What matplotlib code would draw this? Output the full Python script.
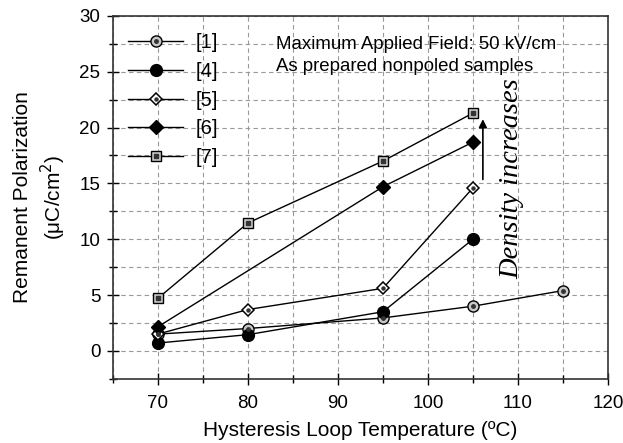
import matplotlib
matplotlib.use("Agg")
import matplotlib.pyplot as plt
from matplotlib.legend_handler import HandlerTuple
from matplotlib.ticker import MultipleLocator

# data
t1 = [70, 80, 95, 105, 115]
p1 = [1.5, 2.0, 2.95, 4.0, 5.4]
t4 = [70, 80, 95, 105]
p4 = [0.7, 1.45, 3.5, 10.0]
t5 = [70, 80, 95, 105]
p5 = [1.5, 3.7, 5.6, 14.6]
t6 = [70, 95, 105]
p6 = [2.15, 14.7, 18.7]
t7 = [70, 80, 95, 105]
p7 = [4.7, 11.45, 17.0, 21.3]
labels = ["[1]", "[4]", "[5]", "[6]", "[7]"]

plt.rcParams.update({"font.family": "Liberation Sans", "font.size": 13.5})

fig = plt.figure(figsize=(6.23, 4.43), dpi=100)
ax = fig.add_axes([0.181, 0.145, 0.795, 0.819])

GRAY = "#c8c8c8"
lw = 1.0
handles = []
# [1] open gray circle with dot
l, = ax.plot(t1, p1, "-o", color="k", lw=lw, ms=8, mfc=GRAY, mec="k", mew=1.0, zorder=3)
d, = ax.plot(t1, p1, "o", color="#333333", ms=2.5, lw=0, zorder=4)
handles.append((l, d))
# [4] filled circle
l, = ax.plot(t4, p4, "-o", color="k", lw=lw, ms=8.5, mfc="k", mec="k", zorder=3)
handles.append(l)
# [5] open diamond with dot
l, = ax.plot(t5, p5, "-D", color="k", lw=lw, ms=6.5, mfc="white", mec="k", mew=1.1, zorder=3)
d, = ax.plot(t5, p5, "o", color="#333333", ms=2.2, lw=0, zorder=4)
handles.append((l, d))
# [6] filled diamond
l, = ax.plot(t6, p6, "-D", color="k", lw=lw, ms=7, mfc="k", mec="k", zorder=3)
handles.append(l)
# [7] gray square with inner square
l, = ax.plot(t7, p7, "-s", color="k", lw=lw, ms=7, mfc=GRAY, mec="k", mew=1.0, zorder=3)
d, = ax.plot(t7, p7, "s", color="#333333", ms=2.5, lw=0, zorder=4)
handles.append((l, d))

ax.set_xlim(65, 120)
ax.set_ylim(-2.5, 30)
ax.xaxis.set_major_locator(MultipleLocator(10))
ax.xaxis.set_minor_locator(MultipleLocator(5))
ax.set_yticks([0, 5, 10, 15, 20, 25, 30])
ax.yaxis.set_minor_locator(MultipleLocator(2.5))
ax.tick_params(which="both", direction="inout", width=1.0, colors="k", labelsize=13.5)
ax.tick_params(which="major", length=8, pad=5)
ax.tick_params(which="minor", length=6)
ax.tick_params(axis="x", which="major", pad=8)
ax.grid(True, which="both", ls=(0, (4, 3)), color="#999999", lw=0.8)
ax.set_axisbelow(True)
for sp in ax.spines.values():
    sp.set_linewidth(1.2)
    sp.set_color("#333333")

ax.set_xlabel("Hysteresis Loop Temperature (ºC)", fontsize=15, labelpad=6)
ax.set_ylabel("Remanent Polarization\n(μC/cm$^2$)", fontsize=15, labelpad=8,
              linespacing=1.3)

leg = ax.legend(handles, labels, handler_map={tuple: HandlerTuple(ndivide=1)},
                loc="upper left", bbox_to_anchor=(0.006, 0.985), frameon=False,
                fontsize=14.5, handlelength=2.75, labelspacing=0.48, borderaxespad=0.2,
                handletextpad=0.6)

ax.text(0.33, 0.946, "Maximum Applied Field: 50 kV/cm\nAs prepared nonpoled samples",
        transform=ax.transAxes, ha="left", va="top", fontsize=13.4, linespacing=1.4)

ax.annotate("", xy=(106.1, 21.0), xytext=(106.1, 15.1),
            arrowprops=dict(arrowstyle="-|>", color="k", lw=1.2, mutation_scale=12))
ax.text(109.3, 15.4, "Density increases", rotation=90, ha="center", va="center",
        fontsize=20.5, family="Liberation Serif", style="italic")

fig.savefig("out.png")
